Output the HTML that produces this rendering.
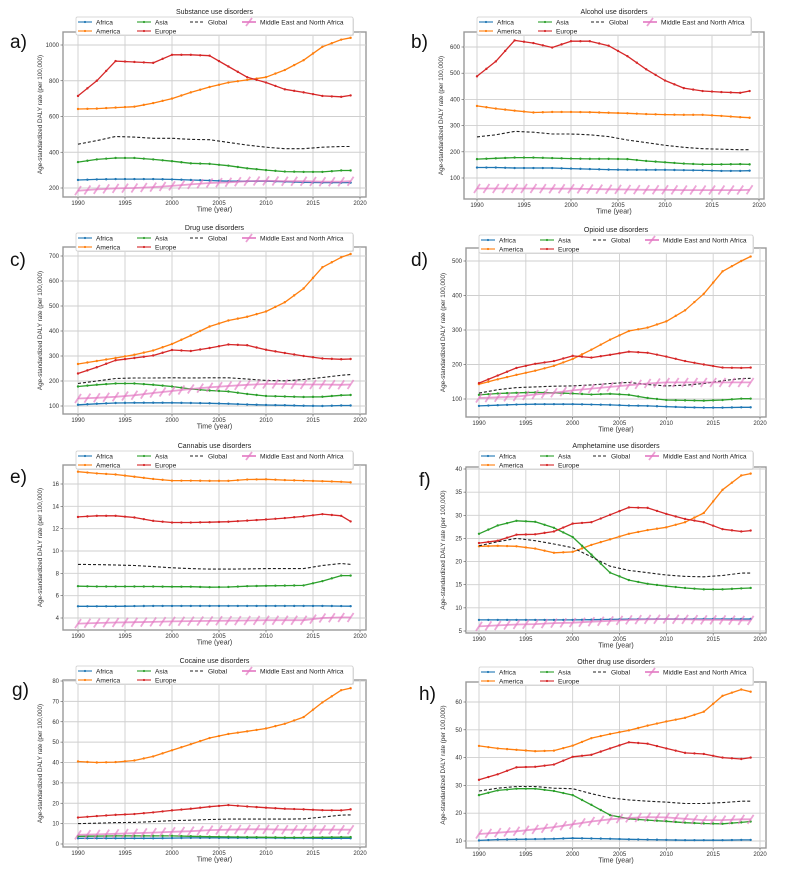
<!DOCTYPE html>
<html><head><meta charset="utf-8">
<style>
body{margin:0;background:#fff;}
svg{display:block;font-family:"Liberation Sans","DejaVu Sans",sans-serif;}
</style></head>
<body>
<svg id="fig" width="786" height="878" viewBox="0 0 786 878" xmlns="http://www.w3.org/2000/svg"></svg>
<script>
const years=[1990,1992,1994,1996,1998,2000,2002,2004,2006,2008,2010,2012,2014,2016,2018,2019];
const seriesNames=["Africa","America","Asia","Europe","Global","Middle East and North Africa"];
const panelTitles=["Substance use disorders","Alcohol use disorders","Drug use disorders","Opioid use disorders","Cannabis use disorders","Amphetamine use disorders","Cocaine use disorders","Other drug use disorders"];
const panelLetters=["a)","b)","c)","d)","e)","f)","g)","h)"];
const yTicksA=[200,400,600,800,1000];
const yTicksB=[100,200,300,400,500,600];
const yTicksC=[100,200,300,400,500,600,700];
const yTicksD=[100,200,300,400,500];
const yTicksE=[4,6,8,10,12,14,16];
const yTicksF=[5,10,15,20,25,30,35,40];
const yTicksG=[0,10,20,30,40,50,60,70,80];
const yTicksH=[10,20,30,40,50,60];
const xTicks=[1990,1995,2000,2005,2010,2015,2020];
// panel a
const aAfrica=[245,248,250,250,250,248,245,242,238,238,238,235,232,230,230,230];
const aAmerica=[642,644,650,655,675,700,735,765,790,805,820,860,915,990,1030,1040];
const aAsia=[345,360,368,368,360,350,338,335,325,310,300,292,290,290,298,298];
const aEurope=[715,800,910,905,900,945,945,940,880,820,790,752,735,715,710,718];
const aGlobal=[445,465,488,485,478,478,472,470,455,440,428,420,420,428,432,432];
const aMena=[185,192,198,200,205,212,220,228,232,238,240,238,238,235,235,238];
// panel b
const bAfrica=[140,140,138,138,138,136,134,132,131,131,131,130,129,127,127,128];
const bAmerica=[375,365,357,350,352,352,351,349,347,344,342,341,341,337,332,330];
const bAsia=[172,175,178,178,176,174,173,173,172,165,160,155,152,152,153,152];
const bEurope=[488,545,625,615,598,622,622,605,565,515,472,443,432,428,425,432];
const bGlobal=[257,265,278,275,268,268,265,258,245,235,225,217,212,210,208,208];
const bMena=[60,60,60,60,59,59,58,57,56,55,55,54,54,54,54,55];
// panel c
const cAfrica=[105,109,112,113,113,113,112,111,109,106,104,103,101,100,102,102];
const cAmerica=[268,280,292,305,322,348,382,418,442,457,478,515,570,655,695,708];
const cAsia=[178,185,190,190,185,178,168,162,158,148,140,138,136,137,143,144];
const cEurope=[230,255,283,292,302,324,320,332,346,343,325,312,300,290,287,288];
const cGlobal=[190,200,210,212,212,213,212,213,213,208,202,201,206,214,223,226];
const cMena=[130,133,137,143,152,160,168,175,180,185,188,188,186,186,185,186];
// panel d
const dAfrica=[80,82,84,85,85,85,84,83,81,80,78,76,75,75,76,76];
const dAmerica=[143,157,170,182,196,216,243,272,297,307,325,357,405,470,500,513];
const dAsia=[112,116,118,119,118,116,113,115,112,103,97,96,95,97,101,101];
const dEurope=[146,168,190,202,210,225,220,228,237,234,223,210,200,191,190,191];
const dGlobal=[117,127,133,135,137,138,141,145,148,142,138,140,145,153,159,160];
const dMena=[103,105,107,113,118,125,130,135,140,145,148,148,148,148,148,148];
// panel e
const eAfrica=[5.05,5.05,5.05,5.07,5.08,5.08,5.08,5.08,5.08,5.08,5.08,5.08,5.08,5.08,5.07,5.06];
const eAmerica=[17.1,16.95,16.85,16.65,16.45,16.3,16.3,16.28,16.28,16.4,16.42,16.35,16.3,16.25,16.2,16.15];
const eAsia=[6.85,6.82,6.82,6.82,6.82,6.8,6.8,6.76,6.78,6.85,6.88,6.9,6.92,7.3,7.8,7.8];
const eEurope=[13.05,13.15,13.15,13.0,12.7,12.55,12.55,12.58,12.62,12.72,12.82,12.95,13.1,13.3,13.15,12.65];
const eGlobal=[8.8,8.78,8.75,8.7,8.6,8.5,8.42,8.38,8.38,8.4,8.42,8.42,8.42,8.7,8.88,8.8];
const eMena=[3.5,3.55,3.6,3.62,3.65,3.7,3.72,3.74,3.76,3.78,3.8,3.8,3.8,4.0,4.05,4.05];
// panel f
const fAfrica=[7.4,7.4,7.4,7.4,7.4,7.4,7.45,7.5,7.55,7.6,7.6,7.6,7.6,7.6,7.6,7.6];
const fAmerica=[23.3,23.4,23.3,22.8,21.9,22.1,23.6,24.8,26.0,26.8,27.4,28.5,30.5,35.5,38.6,39.0];
const fAsia=[26.0,27.8,28.8,28.6,27.3,25.3,21.5,17.6,16.0,15.2,14.7,14.3,14.0,14.0,14.2,14.3];
const fEurope=[24.0,24.5,25.8,25.9,26.5,28.2,28.5,30.1,31.7,31.6,30.3,29.2,28.5,27.0,26.5,26.7];
const fGlobal=[23.4,24.3,25.0,24.5,23.8,23.0,21.0,19.0,18.1,17.6,17.1,16.8,16.7,17.0,17.5,17.5];
const fMena=[6.0,6.2,6.4,6.5,6.7,6.8,7.0,7.2,7.4,7.5,7.6,7.5,7.4,7.4,7.3,7.3];
// panel g
const gAfrica=[2.8,2.8,2.8,2.8,2.8,2.9,3.0,3.0,3.0,3.0,3.0,2.9,2.9,2.8,2.8,2.8];
const gAmerica=[40.5,40.0,40.2,41.0,43.0,46.0,49.0,52.0,54.0,55.3,56.7,59.0,62.3,69.5,75.5,76.5];
const gAsia=[3.8,3.9,4.0,4.0,4.0,4.0,3.8,3.6,3.5,3.4,3.3,3.2,3.2,3.3,3.4,3.4];
const gEurope=[13.0,13.7,14.3,14.7,15.5,16.5,17.3,18.3,19.1,18.4,17.8,17.3,17.0,16.6,16.5,17.0];
const gGlobal=[10.0,10.2,10.5,10.6,11.0,11.5,11.7,12.0,12.2,12.2,12.2,12.2,12.3,13.2,14.2,14.3];
const gMena=[4.5,4.7,5.0,5.3,5.6,6.0,6.3,6.8,7.0,7.2,7.2,7.0,7.0,7.0,7.0,7.0];
// panel h
const hAfrica=[10.2,10.5,10.6,10.7,10.8,11.0,10.9,10.8,10.6,10.5,10.4,10.3,10.3,10.3,10.4,10.4];
const hAmerica=[44.2,43.3,42.8,42.3,42.5,44.3,47.0,48.5,49.8,51.5,53.0,54.3,56.5,62.2,64.5,63.7];
const hAsia=[26.5,28.2,28.8,28.8,28.0,26.5,23.0,19.3,18.0,17.5,17.1,16.6,16.3,16.2,16.7,17.0];
const hEurope=[32.0,34.0,36.5,36.7,37.5,40.3,41.0,43.3,45.5,45.0,43.3,41.7,41.3,40.0,39.5,40.0];
const hGlobal=[28.0,29.0,29.6,29.6,29.0,28.8,27.0,25.5,24.8,24.3,24.0,23.5,23.5,23.8,24.3,24.3];
const hMena=[12.5,13.0,13.5,14.2,15.0,16.0,17.0,17.8,18.3,18.6,18.5,18.0,17.5,17.5,17.8,17.8];

const panelData=[
 [aAfrica,aAmerica,aAsia,aEurope,aGlobal,aMena],
 [bAfrica,bAmerica,bAsia,bEurope,bGlobal,bMena],
 [cAfrica,cAmerica,cAsia,cEurope,cGlobal,cMena],
 [dAfrica,dAmerica,dAsia,dEurope,dGlobal,dMena],
 [eAfrica,eAmerica,eAsia,eEurope,eGlobal,eMena],
 [fAfrica,fAmerica,fAsia,fEurope,fGlobal,fMena],
 [gAfrica,gAmerica,gAsia,gEurope,gGlobal,gMena],
 [hAfrica,hAmerica,hAsia,hEurope,hGlobal,hMena]];
const panelTicks=[yTicksA,yTicksB,yTicksC,yTicksD,yTicksE,yTicksF,yTicksG,yTicksH];

// layout (pixel geometry, not data)
const L=[
 {bx0:63,bx1:366,by0:32,by1:197,x90:78,x20:360,yT0:188,yT1:45,title:12,lx:10,ly:48},
 {bx0:464,bx1:764,by0:32,by1:199,x90:477,x20:759,yT0:178,yT1:47,title:12,lx:411,ly:48},
 {bx0:63,bx1:366,by0:247,by1:414,x90:78,x20:360,yT0:406,yT1:256,title:228,lx:10,ly:266},
 {bx0:466,bx1:766,by0:248,by1:417,x90:479,x20:760,yT0:399,yT1:261,title:230,lx:411,ly:266},
 {bx0:63,bx1:366,by0:465,by1:630,x90:78,x20:360,yT0:618,yT1:484,title:446,lx:10,ly:483},
 {bx0:466,bx1:766,by0:467,by1:633,x90:479,x20:760,yT0:631,yT1:469,title:446,lx:419,ly:486},
 {bx0:63,bx1:366,by0:680,by1:847,x90:78,x20:360,yT0:844,yT1:681,title:661,lx:12,ly:696},
 {bx0:466,bx1:766,by0:682,by1:848,x90:479,x20:760,yT0:841,yT1:702,title:662,lx:419,ly:700}];
const colors=["#1f77b4","#ff7f0e","#2ca02c","#d62728","#222","#e377c2"];
const NS="http://www.w3.org/2000/svg";
const fig=document.getElementById("fig");
function mk(tag,attrs,parent){const e=document.createElementNS(NS,tag);for(const k in attrs)e.setAttribute(k,attrs[k]);(parent||fig).appendChild(e);return e;}

panelData.forEach((data,p)=>{
 const g=L[p], ticks=panelTicks[p];
 const grp=mk("g",{});
 
 
 const t0=ticks[0], t1=ticks[ticks.length-1];
 const X=v=>g.x90+(v-1990)/(2020-1990)*(g.x20-g.x90);
 const Y=v=>g.yT0+(v-t0)/(t1-t0)*(g.yT1-g.yT0);
 const box=mk("rect",{x:g.bx0,y:g.by0,width:g.bx1-g.bx0,height:g.by1-g.by0,fill:"#fff",stroke:"#999","stroke-width":1.4},grp);
 
 
 xTicks.forEach(v=>{
  mk("line",{x1:X(v),x2:X(v),y1:g.by0,y2:g.by1,stroke:"#cfcfcf","stroke-width":0.9},grp);
  mk("line",{x1:X(v),x2:X(v),y1:g.by1,y2:g.by1+2.5,stroke:"#555","stroke-width":0.6},grp);
  const tl=mk("text",{x:X(v),y:g.by1+8,"font-size":6,"text-anchor":"middle",fill:"#333"},grp);
  tl.textContent=v;
  
  
 });
 ticks.forEach(v=>{
  mk("line",{x1:g.bx0,x2:g.bx1,y1:Y(v),y2:Y(v),stroke:"#cfcfcf","stroke-width":0.9},grp);
  mk("line",{x1:g.bx0-2.5,x2:g.bx0,y1:Y(v),y2:Y(v),stroke:"#555","stroke-width":0.6},grp);
  const tl=mk("text",{x:g.bx0-4,y:Y(v)+2,"font-size":6,"text-anchor":"end",fill:"#333"},grp);
  tl.textContent=v;
  
  
 });
 const xl=mk("text",{x:(g.bx0+g.bx1)/2,y:g.by1+14.5,"font-size":7,"text-anchor":"middle",fill:"#333"},grp);
 xl.textContent="Time (year)";
 
 
 const cy=(g.by0+g.by1)/2, cx=g.bx0-21;
 const yl=mk("text",{x:cx,y:cy,"font-size":6.3,"text-anchor":"middle",fill:"#333",transform:`rotate(-90 ${cx} ${cy})`},grp);
 yl.textContent="Age-standardized DALY rate (per 100,000)";
 
 
 data.forEach((vals,s)=>{
  const pts=vals.map((v,i)=>X(years[i]).toFixed(1)+","+Y(v).toFixed(1)).join(" ");
  const attrs={points:pts,fill:"none",stroke:colors[s],"stroke-width":s===5?1.8:1.3,"stroke-linejoin":"round"};
  if(s===4){attrs["stroke-dasharray"]="3,2";attrs["stroke-width"]=1.1;}
  if(s===5){attrs["stroke-opacity"]=0.7;}
  const pl=mk("polyline",attrs,grp);
  
  
  if(s===4) return;
  // marker positions: each data point plus segment midpoints (yearly density)
  const mpos=[];
  vals.forEach((v,i)=>{
   mpos.push([X(years[i]),Y(v)]);
   if(i<vals.length-1 && years[i+1]-years[i]>1)
     mpos.push([(X(years[i])+X(years[i+1]))/2,(Y(v)+Y(vals[i+1]))/2]);
  });
  mpos.forEach(([x,y])=>{
   let m;
   if(s===5) m=mk("line",{x1:x-3,y1:y+4.5,x2:x+3,y2:y-4.5,stroke:"#e377c2","stroke-width":1.8,"stroke-opacity":0.65},grp);
   else m=mk("circle",{cx:x,cy:y,r:1.2,fill:colors[s]},grp);
   
   
  });
 });
 const tt=mk("text",{x:(g.bx0+g.bx1)/2,y:g.title+2,"font-size":7,"text-anchor":"middle",fill:"#222"},grp);
 tt.textContent=panelTitles[p];
 
 
 const lx=g.bx0+13, ly=g.title+5;
 const lg=mk("g",{},grp);
 
 
 mk("rect",{x:lx+1,y:ly+1,width:g.bx1-g.bx0-26,height:18,fill:"#ddd",rx:1.5},lg);
 mk("rect",{x:lx,y:ly,width:g.bx1-g.bx0-26,height:18,fill:"#fff",stroke:"#ccc","stroke-width":0.7,rx:1.5},lg);
 const pos=[[2,5],[2,14],[61,5],[61,14],[114,5],[166,5]];
 seriesNames.forEach((n,s)=>{
  const [ox,oy]=pos[s];const x0=lx+ox,y0=ly+oy;
  const la={x1:x0,x2:x0+14,y1:y0,y2:y0,stroke:colors[s],"stroke-width":s===5?1.6:1.1};
  if(s===4)la["stroke-dasharray"]="3,2";
  mk("line",la,lg);
  if(s===5)mk("line",{x1:x0+4,y1:y0+4,x2:x0+10,y2:y0-4,stroke:"#e377c2","stroke-width":1.8,"stroke-opacity":0.7},lg);
  else if(s!==4)mk("circle",{cx:x0+7,cy:y0,r:1.1,fill:colors[s]},lg);
  const te=mk("text",{x:x0+18,y:y0+2.3,"font-size":6.6,fill:"#222"},lg);
  te.textContent=n;
  
  
 });
 const lt=mk("text",{x:g.lx,y:g.ly,"font-size":19,fill:"#111"},grp);
 lt.textContent=panelLetters[p];
 
 
});
</script>
</body></html>
